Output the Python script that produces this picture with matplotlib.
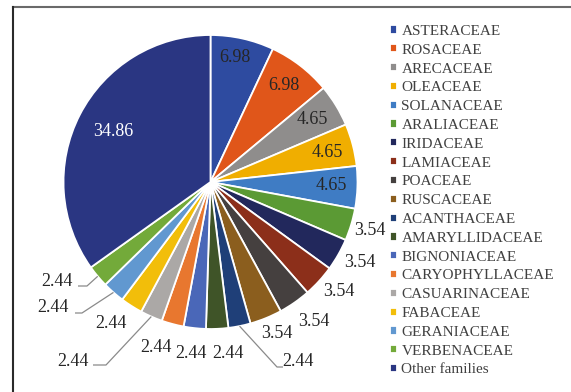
import matplotlib
matplotlib.use("Agg")
import matplotlib.pyplot as plt
from matplotlib.lines import Line2D
import numpy as np

families = ["ASTERACEAE", "ROSACEAE", "ARECACEAE", "OLEACEAE", "SOLANACEAE",
            "ARALIACEAE", "IRIDACEAE", "LAMIACEAE", "POACEAE", "RUSCACEAE",
            "ACANTHACEAE", "AMARYLLIDACEAE", "BIGNONIACEAE", "CARYOPHYLLACEAE",
            "CASUARINACEAE", "FABACEAE", "GERANIACEAE", "VERBENACEAE", "Other families"]
percent = [6.98, 6.98, 4.65, 4.65, 4.65,
           3.54, 3.54, 3.54, 3.54, 3.54,
           2.44, 2.44, 2.44, 2.44, 2.44, 2.44, 2.44, 2.44, 34.86]
labels = ["6.98", "6.98", "4.65", "4.65", "4.65",
          "3.54", "3.54", "3.54", "3.54", "3.54",
          "2.44", "2.44", "2.44", "2.44", "2.44", "2.44", "2.44", "2.44", "34.86"]

colors = ["#2E4BA0", "#E0561A", "#8F8D8C", "#F0AE00", "#3F7CC4", "#5B9A34",
          "#22285C", "#8C2F1A", "#45403F", "#8B5E1E", "#1F3F78", "#3F5428",
          "#4A67B8", "#E8772F", "#ABA8A6", "#F2BE0A", "#6198D0", "#73AA3A", "#2A3682"]

W, H = 571, 392
CX, CY, RPX = 210.5, 182.0, 147.0   # pie centre / radius in pixels (layout)
LIM = 1.5

fig = plt.figure(figsize=(W / 100, H / 100), dpi=100)
side = 2 * LIM * RPX
ax = fig.add_axes([(CX - side / 2) / W, ((H - CY) - side / 2) / H, side / W, side / H])

wedges, _ = ax.pie(percent, colors=colors, startangle=90, counterclock=False, radius=1,
                   wedgeprops=dict(edgecolor="white", linewidth=1.3))
ax.set_xlim(-LIM, LIM)
ax.set_ylim(-LIM, LIM)
ax.set_aspect("equal")
ax.axis("off")


def P(px, py):
    return ((px - CX) / RPX, (CY - py) / RPX)


serif = "Liberation Serif"
# label positions (pixels in figure image, layout only)
label_px = [(235, 57), (284, 85), (312, 119), (327, 153), (331, 186),
            (370, 231), (360, 263), (339, 291), (314, 322), (277, 334),
            (300, 362), (228, 353), (191, 353), (156, 348),
            (73, 361), (111, 323), (53, 308), (57, 282), (113, 132)]
label_ha = ["center"] * 19
label_ha[10] = "left"
label_px[10] = (282, 362)
label_col = ["#262626"] * 19
label_col[18] = "white"

for i, (lab, (px, py)) in enumerate(zip(labels, label_px)):
    x, y = P(px, py)
    ax.text(x, y, lab, ha=label_ha[i], va="center", fontsize=13,
            family=serif, color=label_col[i])

# leader lines: index -> (elbow px, end px)
leaders = {10: ((277, 367), (283, 367)),
           14: ((106, 365), (93, 365)),
           16: ((82, 313), (75, 313)),
           17: ((87, 286), (78, 286))}
for i, (elb, end) in leaders.items():
    w = wedges[i]
    ang = np.deg2rad((w.theta1 + w.theta2) / 2)
    x0, y0 = np.cos(ang), np.sin(ang)
    ex, ey = P(*elb)
    nx, ny = P(*end)
    ax.plot([x0, ex, nx], [y0, ey, ny], color="#8a8a8a", lw=0.9, solid_capstyle="butt")

leg = fig.legend(wedges, families, loc="upper left",
                 bbox_to_anchor=(390 / W, 1 - 25 / H), frameon=False,
                 prop=dict(family=serif, size=11), labelcolor="#404040",
                 handlelength=0.45, handleheight=0.45, handletextpad=0.3,
                 labelspacing=0.38, borderpad=0, borderaxespad=0)

# outer chart border (cropped at right/bottom)
fig.add_artist(Line2D([13 / W, 1.0], [1 - 7.3 / H, 1 - 7.3 / H], transform=fig.transFigure,
                      color="#6a6a6a", lw=1.5))
fig.add_artist(Line2D([13.3 / W, 13.3 / W], [0, 1 - 7.3 / H], transform=fig.transFigure,
                      color="#2a2a2a", lw=1.5))

fig.savefig("out.png", dpi=100, facecolor="white")
